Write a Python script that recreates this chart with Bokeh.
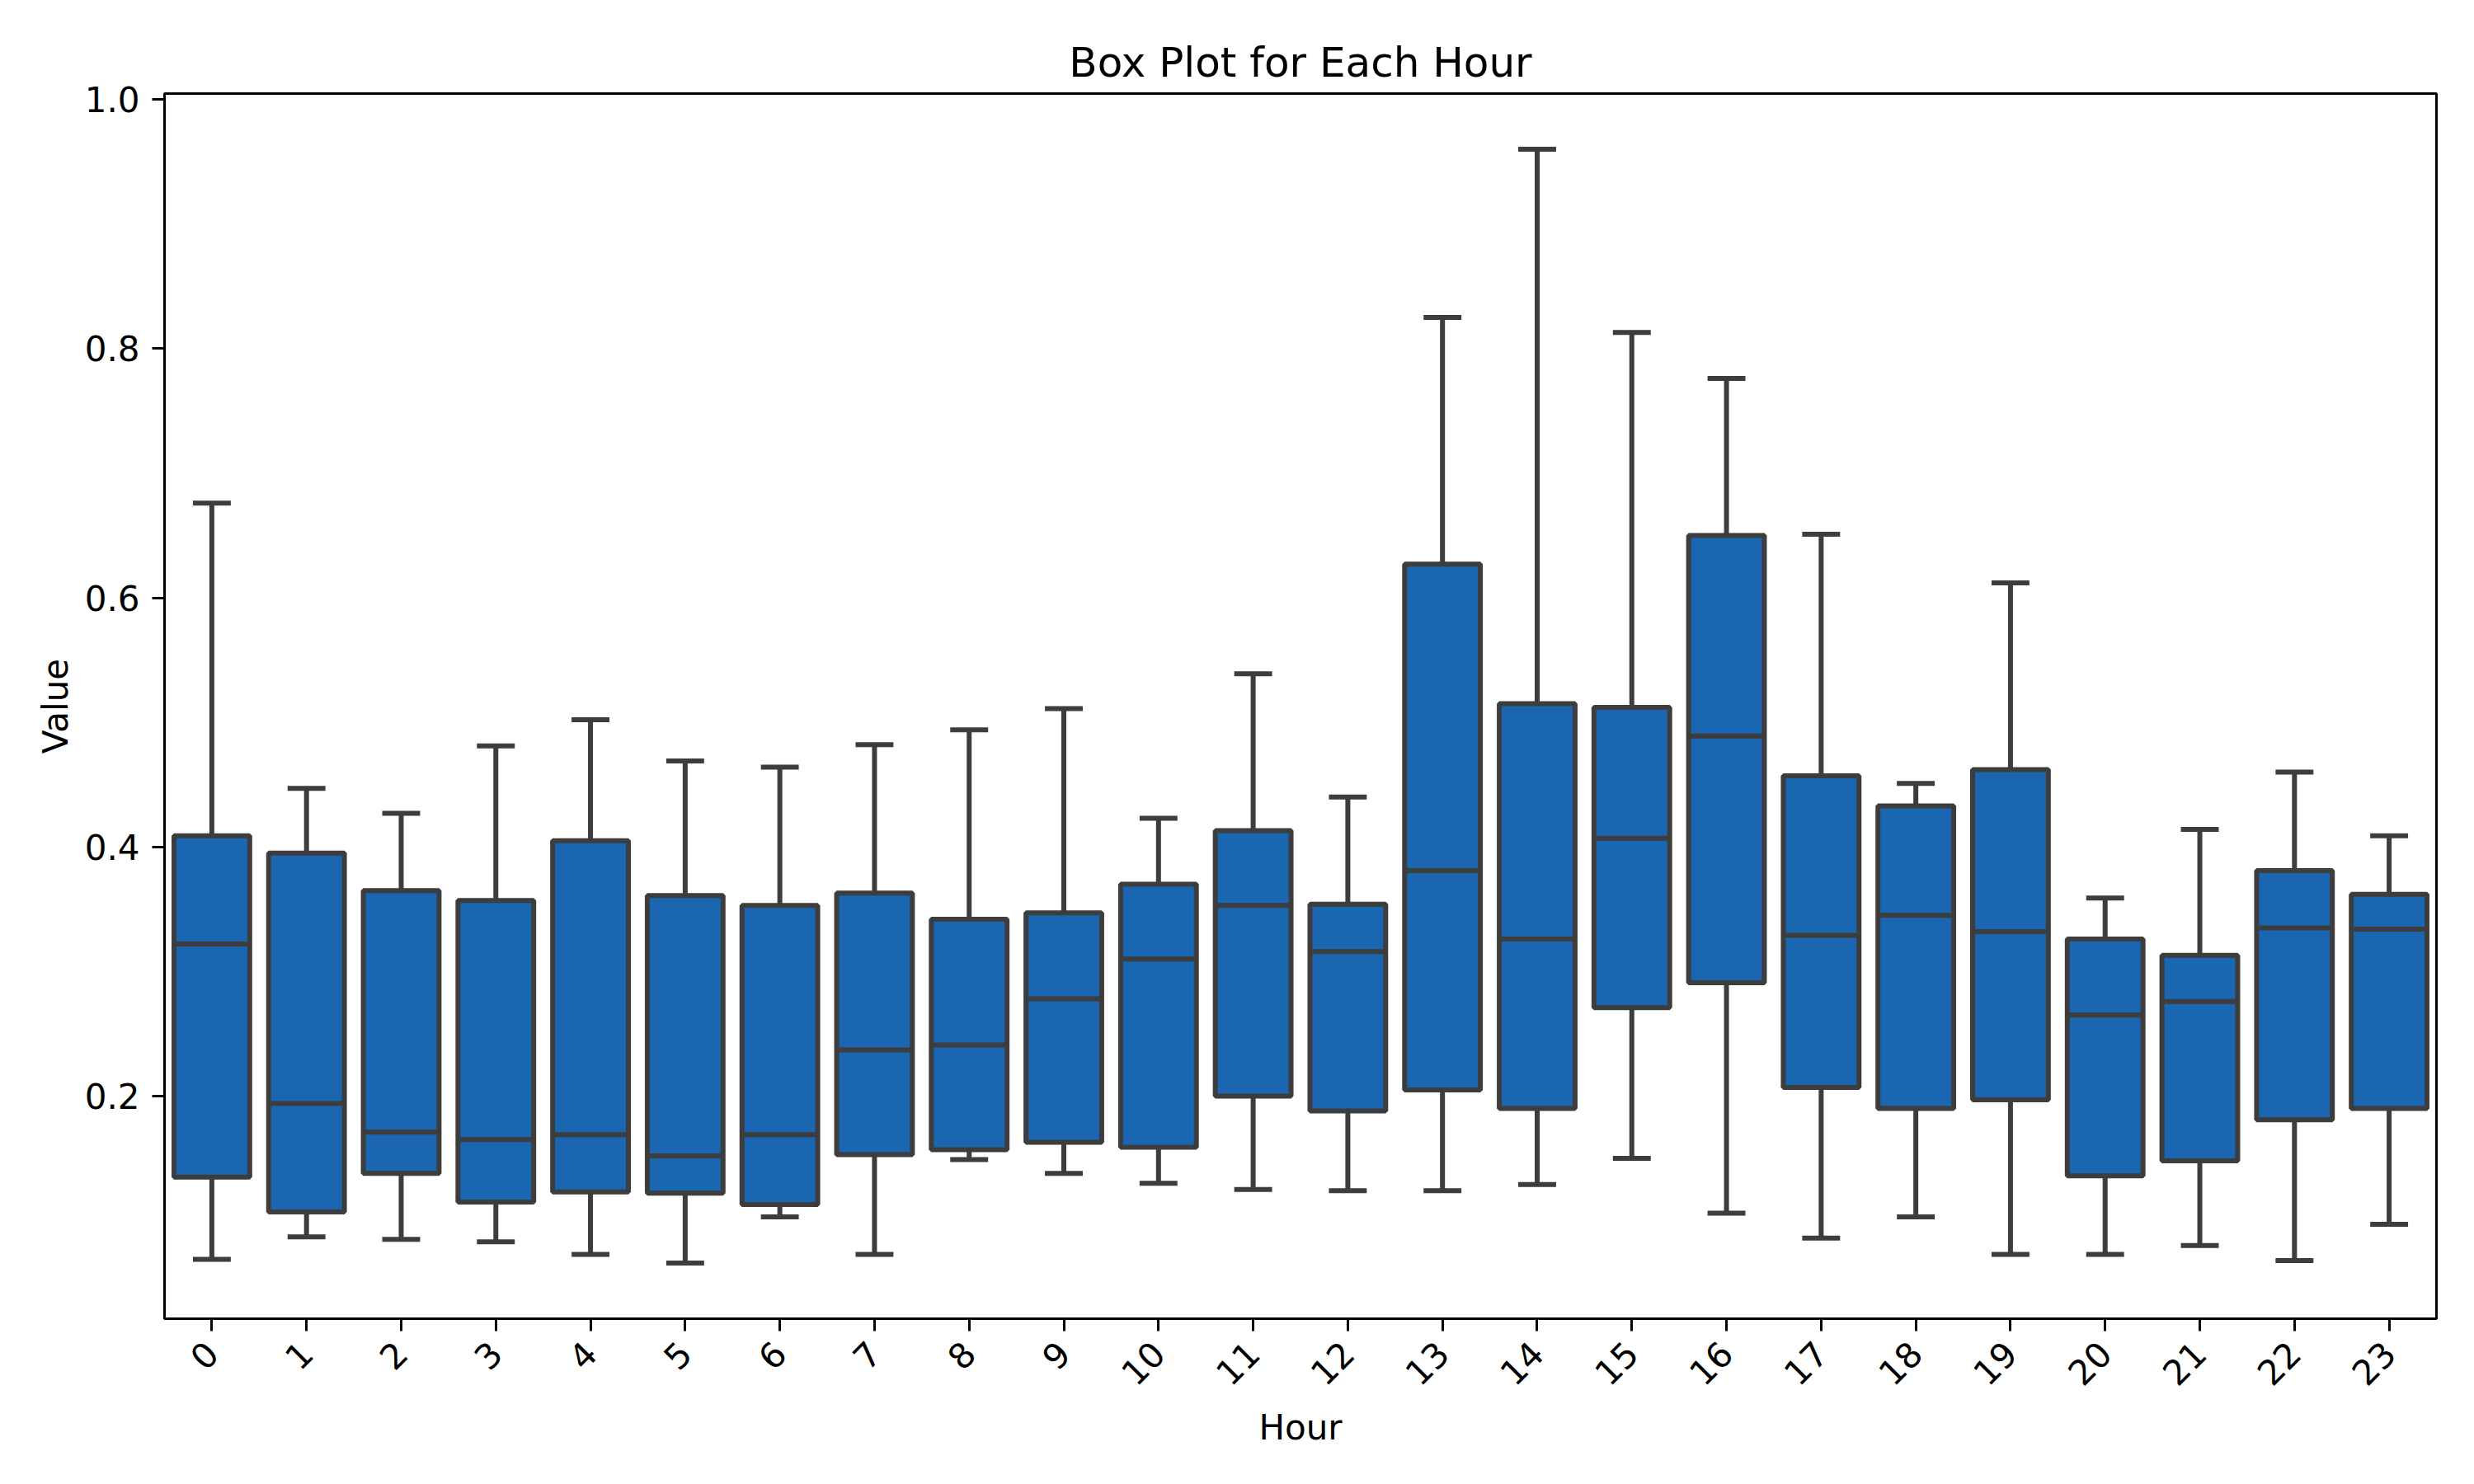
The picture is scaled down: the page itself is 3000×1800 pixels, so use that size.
# box plot of values per hour, rebuilt with bokeh

from bokeh.plotting import figure
from bokeh.models import ColumnDataSource, FactorRange, FixedTicker, PrintfTickFormatter
from bokeh.transform import dodge
from bokeh.embed import file_html
from bokeh.resources import INLINE

hours = [str(h) for h in range(24)]

# five-number summaries
whisker_low = [0.069, 0.087, 0.085, 0.083, 0.073, 0.066, 0.103, 0.073,
               0.149, 0.138, 0.130, 0.125, 0.124, 0.124, 0.129, 0.150,
               0.106, 0.086, 0.103, 0.073, 0.073, 0.080, 0.068, 0.097]
q1 = [0.135, 0.107, 0.138, 0.115, 0.123, 0.122, 0.113, 0.153,
      0.157, 0.163, 0.159, 0.200, 0.188, 0.205, 0.190, 0.271,
      0.291, 0.207, 0.190, 0.197, 0.136, 0.148, 0.181, 0.190]
median = [0.322, 0.194, 0.171, 0.165, 0.169, 0.152, 0.169, 0.237,
          0.241, 0.278, 0.310, 0.353, 0.316, 0.381, 0.326, 0.407,
          0.489, 0.329, 0.345, 0.332, 0.265, 0.276, 0.335, 0.334]
q3 = [0.409, 0.395, 0.365, 0.357, 0.405, 0.361, 0.353, 0.363,
      0.342, 0.347, 0.370, 0.413, 0.354, 0.627, 0.515, 0.512,
      0.650, 0.457, 0.433, 0.462, 0.326, 0.313, 0.381, 0.362]
whisker_high = [0.676, 0.447, 0.427, 0.481, 0.502, 0.469, 0.464, 0.482,
                0.494, 0.511, 0.423, 0.539, 0.440, 0.825, 0.960, 0.813,
                0.776, 0.651, 0.451, 0.612, 0.359, 0.414, 0.460, 0.409]

y_ticks = [0.2, 0.4, 0.6, 0.8, 1.0]

FONT = "DejaVu Sans"
EDGE = "#3d3d3d"
FILL = "#1a66b1"

source = ColumnDataSource(data=dict(
    hour=hours, low=whisker_low, q1=q1, med=median, q3=q3, high=whisker_high,
))

lo = min(whisker_low)
hi = max(whisker_high)
pad = (hi - lo) * 0.05

p = figure(
    x_range=FactorRange(*hours, range_padding=0, factor_padding=0),
    y_range=(lo - pad, hi + pad),
    frame_width=2755,
    frame_height=1486,
    min_border_left=199,
    min_border_right=30,
    min_border_top=113,
    min_border_bottom=185,
    title="Box Plot for Each Hour",
    toolbar_location=None,
    tools="",
    output_backend="svg",
)

# whiskers first so the boxes cover them
p.segment(x0="hour", y0="q3", x1="hour", y1="high", source=source,
          line_color=EDGE, line_width=6)
p.segment(x0="hour", y0="low", x1="hour", y1="q1", source=source,
          line_color=EDGE, line_width=6)
p.segment(x0=dodge("hour", -0.2, range=p.x_range), y0="high",
          x1=dodge("hour", 0.2, range=p.x_range), y1="high",
          source=source, line_color=EDGE, line_width=6)
p.segment(x0=dodge("hour", -0.2, range=p.x_range), y0="low",
          x1=dodge("hour", 0.2, range=p.x_range), y1="low",
          source=source, line_color=EDGE, line_width=6)
p.vbar(x="hour", bottom="q1", top="q3", width=0.8, source=source,
       fill_color=FILL, line_color=EDGE, line_width=6)
p.segment(x0=dodge("hour", -0.4, range=p.x_range), y0="med",
          x1=dodge("hour", 0.4, range=p.x_range), y1="med",
          source=source, line_color=EDGE, line_width=6)

p.title.text_font = FONT
p.title.text_font_size = "50px"
p.title.text_font_style = "normal"
p.title.text_color = "black"
p.title.align = "center"
p.title.standoff = 18

p.xgrid.grid_line_color = None
p.ygrid.grid_line_color = None
p.outline_line_color = "black"
p.outline_line_width = 3
p.outline_line_alpha = 1.0

p.yaxis.ticker = FixedTicker(ticks=y_ticks)
p.yaxis.formatter = PrintfTickFormatter(format="%.1f")
p.xaxis.axis_label = "Hour"
p.yaxis.axis_label = "Value"
for ax in (p.xaxis, p.yaxis):
    ax.axis_line_color = None
    ax.major_tick_line_color = "black"
    ax.major_tick_line_width = 3
    ax.major_tick_out = 15
    ax.major_tick_in = 0
    ax.minor_tick_line_color = None
    ax.major_label_text_font = FONT
    ax.major_label_text_font_size = "42px"
    ax.major_label_text_color = "black"
    ax.major_label_standoff = 15
    ax.axis_label_text_font = FONT
    ax.axis_label_text_font_size = "42px"
    ax.axis_label_text_font_style = "normal"
    ax.axis_label_text_color = "black"
p.xaxis.major_label_orientation = 0.785398
p.xaxis.major_label_standoff = 20
p.xaxis.axis_label_standoff = 10
p.yaxis.axis_label_standoff = 8

with open("out.html", "w") as f:
    f.write(file_html(p, INLINE))
